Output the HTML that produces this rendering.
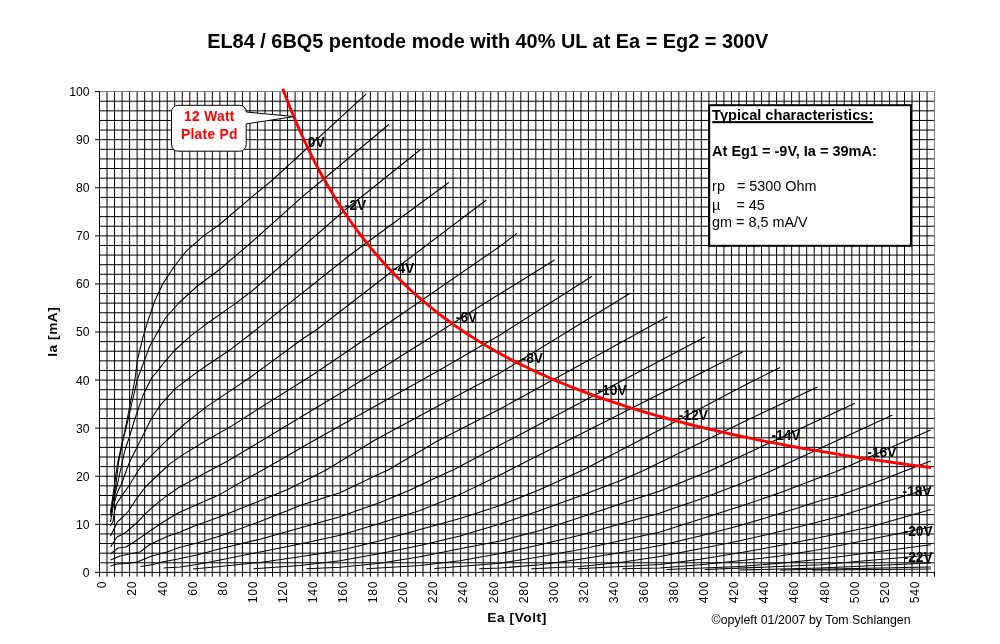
<!DOCTYPE html>
<html lang="en"><head><meta charset="utf-8"><title>EL84 / 6BQ5 pentode mode with 40% UL</title>
<style>html,body{margin:0;padding:0;background:#fff}body{width:1000px;height:644px;overflow:hidden}svg{display:block}text{font-family:"Liberation Sans",Arial,Helvetica,sans-serif}</style>
</head><body>
<svg width="1000" height="644" viewBox="0 0 1000 644">
<rect width="1000" height="644" fill="#fff"/>
<g stroke="#000" stroke-width="1.00" fill="none">
<path d="M99.50 91.60V576.70M107.02 91.60V576.70M114.55 91.60V576.70M122.07 91.60V576.70M129.59 91.60V576.70M137.12 91.60V576.70M144.64 91.60V576.70M152.16 91.60V576.70M159.69 91.60V576.70M167.21 91.60V576.70M174.73 91.60V576.70M182.25 91.60V576.70M189.78 91.60V576.70M197.30 91.60V576.70M204.82 91.60V576.70M212.35 91.60V576.70M219.87 91.60V576.70M227.39 91.60V576.70M234.92 91.60V576.70M242.44 91.60V576.70M249.96 91.60V576.70M257.49 91.60V576.70M265.01 91.60V576.70M272.53 91.60V576.70M280.06 91.60V576.70M287.58 91.60V576.70M295.10 91.60V576.70M302.62 91.60V576.70M310.15 91.60V576.70M317.67 91.60V576.70M325.19 91.60V576.70M332.72 91.60V576.70M340.24 91.60V576.70M347.76 91.60V576.70M355.29 91.60V576.70M362.81 91.60V576.70M370.33 91.60V576.70M377.86 91.60V576.70M385.38 91.60V576.70M392.90 91.60V576.70M400.43 91.60V576.70M407.95 91.60V576.70M415.47 91.60V576.70M423.00 91.60V576.70M430.52 91.60V576.70M438.04 91.60V576.70M445.56 91.60V576.70M453.09 91.60V576.70M460.61 91.60V576.70M468.13 91.60V576.70M475.66 91.60V576.70M483.18 91.60V576.70M490.70 91.60V576.70M498.23 91.60V576.70M505.75 91.60V576.70M513.27 91.60V576.70M520.80 91.60V576.70M528.32 91.60V576.70M535.84 91.60V576.70M543.37 91.60V576.70M550.89 91.60V576.70M558.41 91.60V576.70M565.94 91.60V576.70M573.46 91.60V576.70M580.98 91.60V576.70M588.50 91.60V576.70M596.03 91.60V576.70M603.55 91.60V576.70M611.07 91.60V576.70M618.60 91.60V576.70M626.12 91.60V576.70M633.64 91.60V576.70M641.17 91.60V576.70M648.69 91.60V576.70M656.21 91.60V576.70M663.74 91.60V576.70M671.26 91.60V576.70M678.78 91.60V576.70M686.31 91.60V576.70M693.83 91.60V576.70M701.35 91.60V576.70M708.88 91.60V576.70M716.40 91.60V576.70M723.92 91.60V576.70M731.44 91.60V576.70M738.97 91.60V576.70M746.49 91.60V576.70M754.01 91.60V576.70M761.54 91.60V576.70M769.06 91.60V576.70M776.58 91.60V576.70M784.11 91.60V576.70M791.63 91.60V576.70M799.15 91.60V576.70M806.68 91.60V576.70M814.20 91.60V576.70M821.72 91.60V576.70M829.25 91.60V576.70M836.77 91.60V576.70M844.29 91.60V576.70M851.81 91.60V576.70M859.34 91.60V576.70M866.86 91.60V576.70M874.38 91.60V576.70M881.91 91.60V576.70M889.43 91.60V576.70M896.95 91.60V576.70M904.48 91.60V576.70M912.00 91.60V576.70M919.52 91.60V576.70M927.05 91.60V576.70M934.50 571.90V576.70"/>
<path d="M95.00 572.40H935.00M99.50 562.78H934.50M99.50 553.17H934.50M99.50 543.55H934.50M99.50 533.94H934.50M95.00 524.32H934.50M99.50 514.70H934.50M99.50 505.09H934.50M99.50 495.47H934.50M99.50 485.86H934.50M95.00 476.24H934.50M99.50 466.62H934.50M99.50 457.01H934.50M99.50 447.39H934.50M99.50 437.78H934.50M95.00 428.16H934.50M99.50 418.54H934.50M99.50 408.93H934.50M99.50 399.31H934.50M99.50 389.70H934.50M95.00 380.08H934.50M99.50 370.46H934.50M99.50 360.85H934.50M99.50 351.23H934.50M99.50 341.62H934.50M95.00 332.00H934.50M99.50 322.38H934.50M99.50 312.77H934.50M99.50 303.15H934.50M99.50 293.54H934.50M95.00 283.92H934.50M99.50 274.30H934.50M99.50 264.69H934.50M99.50 255.07H934.50M99.50 245.46H934.50M95.00 235.84H934.50M99.50 226.22H934.50M99.50 216.61H934.50M99.50 206.99H934.50M99.50 197.38H934.50M95.00 187.76H934.50M99.50 178.14H934.50M99.50 168.53H934.50M99.50 158.91H934.50M99.50 149.30H934.50M95.00 139.68H934.50M99.50 130.06H934.50M99.50 120.45H934.50M99.50 110.83H934.50M99.50 101.22H934.50M95.00 91.60H100.00"/>
</g>
<path d="M100.00 91.60H934.50V571.90" fill="none" stroke="#808080" stroke-width="1"/>
<g stroke="#000" stroke-width="1.05" fill="none" stroke-linejoin="round">
<polyline points="110.5,512.0 114.2,486.8 117.4,464.0 120.5,450.0 124.6,432.0 127.0,420.0 129.4,408.0 135.0,379.2 137.4,360.0 143.0,337.2 147.8,321.2 155.0,300.4 162.2,285.0 173.4,267.5 186.2,251.2 203.8,235.6 219.0,225.0 234.2,212.0 255.0,194.4 272.5,180.0 366.3,93.8"/>
<polyline points="110.5,514.0 116.0,484.0 118.6,462.4 123.0,440.0 127.8,420.8 132.6,400.0 137.4,379.2 144.6,360.0 149.4,346.8 156.6,334.0 165.4,318.0 179.8,302.0 197.4,286.0 219.0,270.0 250.0,243.5 301.6,197.4 322.5,180.0 388.8,124.5"/>
<polyline points="110.5,516.5 113.0,502.0 117.5,484.0 120.5,470.0 125.0,450.0 130.0,435.0 134.5,420.0 143.0,395.2 151.8,377.6 156.6,372.4 163.8,362.8 175.0,350.0 191.0,335.6 210.2,321.2 234.2,304.4 252.0,291.0 345.0,210.0 382.5,180.0 420.0,150.0"/>
<polyline points="110.5,522.0 113.5,505.0 117.5,492.0 121.5,484.0 126.6,470.0 129.4,462.4 135.0,451.2 143.0,435.2 151.0,419.2 160.6,404.8 175.0,388.8 194.2,374.4 207.0,365.2 215.0,360.0 231.0,349.2 252.0,333.0 350.0,255.0 448.8,182.5"/>
<polyline points="110.5,526.0 113.0,521.6 114.4,512.0 116.4,504.0 121.2,496.6 129.3,485.3 138.6,470.0 144.6,462.4 152.6,454.4 167.0,440.0 184.6,424.0 207.0,406.4 231.0,390.4 252.0,376.0 301.0,340.0 317.5,329.0 393.8,270.0 486.3,200.0"/>
<polyline points="110.5,536.0 114.0,529.0 117.6,521.6 123.0,517.0 128.5,511.0 135.7,500.0 145.4,487.0 163.2,470.0 170.2,463.4 184.6,453.6 207.0,440.0 231.0,426.4 252.0,413.0 312.5,375.0 362.5,341.0 380.0,329.0 500.0,246.3 517.0,233.3"/>
<polyline points="110.5,547.0 117.0,537.0 125.0,533.0 132.0,527.0 138.2,521.6 144.6,514.4 153.5,506.3 165.6,496.6 178.0,488.0 207.0,472.0 227.8,461.0 252.0,446.5 312.5,410.0 375.0,372.5 425.0,341.0 460.0,318.8 500.0,293.8 554.5,260.0"/>
<polyline points="110.5,554.0 118.0,548.0 126.0,547.0 134.0,542.0 147.0,533.0 162.4,522.5 178.0,513.0 220.0,494.4 250.0,477.0 268.0,467.0 312.5,441.3 375.0,406.3 437.5,371.3 500.0,335.0 592.0,276.3"/>
<polyline points="110.5,560.0 120.0,556.0 132.0,553.5 140.0,552.0 149.0,545.0 167.0,536.5 180.0,532.0 197.0,525.0 220.0,516.8 260.0,500.8 287.5,489.5 312.5,477.0 327.0,469.5 375.0,440.0 437.5,406.3 500.0,373.0 629.3,293.8"/>
<polyline points="110.5,566.0 117.0,564.0 127.0,563.5 137.0,562.0 152.0,556.0 167.0,552.0 180.0,547.2 197.0,543.0 220.0,536.0 260.0,521.6 300.0,505.6 340.0,492.8 375.0,476.0 388.0,470.0 437.5,441.0 500.0,409.0 667.5,316.8"/>
<polyline points="140.5,566.5 153.0,564.5 162.0,562.0 178.0,559.0 197.0,555.0 220.0,548.8 260.0,539.2 300.0,528.0 340.0,516.8 380.0,502.4 410.0,490.0 437.5,477.0 455.0,469.0 500.0,445.0 705.0,337.0"/>
<polyline points="163.5,568.0 180.0,567.0 197.0,564.5 220.0,560.0 260.0,552.0 300.0,544.0 340.0,535.2 380.0,523.2 420.0,510.4 460.0,494.4 500.0,475.0 742.5,352.0"/>
<polyline points="193.0,569.0 220.0,566.4 260.0,562.4 300.0,556.8 340.0,550.4 380.0,540.8 420.0,529.6 460.0,518.4 500.0,505.6 540.0,489.6 583.0,470.0 750.0,382.5 780.0,367.5"/>
<polyline points="253.6,568.8 300.0,565.6 340.0,560.8 380.0,553.6 420.0,545.6 460.0,536.0 500.0,524.0 540.0,510.4 580.0,496.0 620.0,480.8 642.4,471.0 750.0,418.8 817.5,387.0"/>
<polyline points="306.4,568.8 340.0,567.2 380.0,563.2 420.0,556.8 460.0,548.8 500.0,541.0 540.0,530.4 580.0,517.6 620.0,504.0 660.0,491.0 709.6,471.0 750.0,452.0 855.0,403.3"/>
<polyline points="366.4,568.8 420.0,565.6 460.0,560.8 500.0,553.6 540.0,544.8 580.0,535.2 620.0,524.0 660.0,513.0 700.0,499.2 740.0,484.0 768.8,472.0 892.5,415.0"/>
<polyline points="434.4,568.5 500.0,563.2 540.0,556.8 580.0,549.6 620.0,540.8 660.0,532.0 700.0,519.2 740.0,506.4 780.0,492.8 820.0,477.6 836.4,471.5 930.5,430.0"/>
<polyline points="479.2,568.8 500.0,568.0 540.0,564.8 580.0,559.2 620.0,552.8 660.0,545.6 700.0,536.0 740.0,525.6 780.0,513.6 820.0,500.8 838.0,496.0 886.0,478.4 902.0,472.0 930.8,461.0"/>
<polyline points="531.2,568.8 580.0,566.4 620.0,562.4 660.0,556.5 700.0,548.8 740.0,540.8 780.0,531.5 820.0,521.6 838.0,516.8 886.0,501.6 930.8,488.0"/>
<polyline points="577.6,568.8 660.0,564.4 700.0,559.2 740.0,552.8 780.0,545.6 820.0,537.6 870.0,527.0 930.8,509.6"/>
<polyline points="622.4,568.8 660.0,568.0 700.0,564.8 740.0,560.8 780.0,556.0 820.0,549.6 930.8,527.0"/>
<polyline points="666.4,569.6 740.0,566.4 780.0,563.2 820.0,559.2 930.8,544.8"/>
<polyline points="704.8,569.6 820.0,564.8 930.8,555.0"/>
<polyline points="740.0,570.0 820.0,568.0 930.8,563.0"/>
<polyline points="780.0,570.0 930.8,567.0"/>
<polyline points="812.0,570.0 930.8,569.0"/>
</g>
<polyline fill="none" stroke="#f00" stroke-width="2.85" stroke-linecap="butt" stroke-linejoin="round" points="282.8,88.8 283.8,91.6 291.3,110.8 298.9,128.6 306.4,145.0 313.9,160.3 321.4,174.5 329.0,187.8 336.5,200.2 344.0,211.8 351.5,222.7 359.0,233.0 366.6,242.7 374.1,251.9 381.6,260.5 389.1,268.7 396.7,276.5 404.2,283.9 411.7,291.0 419.2,297.7 426.8,304.0 434.3,310.1 441.8,316.0 449.3,321.5 456.8,326.9 464.4,332.0 471.9,336.9 479.4,341.6 486.9,346.1 494.5,350.5 502.0,354.7 509.5,358.7 517.0,362.6 524.6,366.3 532.1,370.0 539.6,373.4 547.1,376.8 554.7,380.1 562.2,383.2 569.7,386.3 577.2,389.2 584.7,392.1 592.3,394.9 599.8,397.6 607.3,400.2 614.8,402.7 622.4,405.2 629.9,407.6 637.4,409.9 644.9,412.1 652.5,414.3 660.0,416.5 667.5,418.5 675.0,420.6 682.5,422.5 690.1,424.5 697.6,426.3 705.1,428.2 712.6,429.9 720.2,431.7 727.7,433.4 735.2,435.0 742.7,436.6 750.3,438.2 757.8,439.8 765.3,441.3 772.8,442.7 780.3,444.2 787.9,445.6 795.4,447.0 802.9,448.3 810.4,449.6 818.0,450.9 825.5,452.2 833.0,453.4 840.5,454.7 848.1,455.8 855.6,457.0 863.1,458.2 870.6,459.3 878.1,460.4 885.7,461.4 893.2,462.5 900.7,463.5 908.2,464.6 915.8,465.6 923.3,466.5 931.0,467.5"/>
<g font-size="13.8" font-weight="bold" fill="#000">
<text x="307.8" y="146.8">0V</text>
<text x="344.8" y="210.3">-2V</text>
<text x="392.8" y="273.3">-4V</text>
<text x="455.8" y="321.8">-6V</text>
<text x="521.6" y="363.2">-8V</text>
<text x="597.5" y="395.3">-10V</text>
<text x="678.8" y="419.5">-12V</text>
<text x="771.4" y="440.3">-14V</text>
<text x="867.3" y="457.0">-16V</text>
<text x="902.6" y="496.2">-18V</text>
<text x="903.6" y="536.4">-20V</text>
<text x="903.6" y="561.9">-22V</text>
</g>
<path d="M178 105.3H239.7a6.5 6.5 0 0 1 6.5 6.5V112L293.8 116.6L246.2 123.9V144.7a6.5 6.5 0 0 1 -6.5 6.5H178a6.5 6.5 0 0 1 -6.5 -6.5V111.8a6.5 6.5 0 0 1 6.5 -6.5Z" fill="#fff" stroke="#000" stroke-width="1"/>
<g font-size="13.8" letter-spacing="0.3" font-weight="bold" fill="#f00" text-anchor="middle">
<text x="209.4" y="120.7">12 Watt</text>
<text x="209.4" y="139.3">Plate Pd</text>
</g>
<rect x="709.2" y="105.2" width="201.8" height="140.6" fill="#fff" stroke="#000" stroke-width="2"/>
<g font-size="14.4" fill="#000">
<text x="712.1" y="119.5" font-size="14.6" font-weight="bold">Typical characteristics:</text>
<rect x="712.3" y="121.1" width="161" height="2.1" fill="#000"/>
<text x="712.1" y="156.3" font-size="14.5" font-weight="bold">At Eg1 = -9V, Ia = 39mA:</text>
<text x="712.1" y="191.3" xml:space="preserve" style="white-space:pre">rp   = 5300 Ohm</text>
<text x="712.1" y="209.5" xml:space="preserve" style="white-space:pre">µ    = 45</text>
<text x="712.1" y="227">gm = 8,5 mA/V</text>
</g>
<text x="487.8" y="48.2" font-size="19.9" font-weight="bold" text-anchor="middle" fill="#000">EL84 / 6BQ5 pentode mode with 40% UL at Ea = Eg2 = 300V</text>
<g font-size="12.2" fill="#000" text-anchor="end">
<text x="89.6" y="576.8">0</text>
<text x="89.6" y="528.7">10</text>
<text x="89.6" y="480.6">20</text>
<text x="89.6" y="432.6">30</text>
<text x="89.6" y="384.5">40</text>
<text x="89.6" y="336.4">50</text>
<text x="89.6" y="288.3">60</text>
<text x="89.6" y="240.2">70</text>
<text x="89.6" y="192.2">80</text>
<text x="89.6" y="144.1">90</text>
<text x="89.6" y="96.0">100</text>
</g>
<g font-size="12.2" fill="#000" text-anchor="end" letter-spacing="0.75">
<text transform="translate(106.3 580.7) rotate(-90)">0</text>
<text transform="translate(136.4 580.7) rotate(-90)">20</text>
<text transform="translate(166.5 580.7) rotate(-90)">40</text>
<text transform="translate(196.6 580.7) rotate(-90)">60</text>
<text transform="translate(226.7 580.7) rotate(-90)">80</text>
<text transform="translate(256.8 580.7) rotate(-90)">100</text>
<text transform="translate(286.9 580.7) rotate(-90)">120</text>
<text transform="translate(316.9 580.7) rotate(-90)">140</text>
<text transform="translate(347.0 580.7) rotate(-90)">160</text>
<text transform="translate(377.1 580.7) rotate(-90)">180</text>
<text transform="translate(407.2 580.7) rotate(-90)">200</text>
<text transform="translate(437.3 580.7) rotate(-90)">220</text>
<text transform="translate(467.4 580.7) rotate(-90)">240</text>
<text transform="translate(497.5 580.7) rotate(-90)">260</text>
<text transform="translate(527.6 580.7) rotate(-90)">280</text>
<text transform="translate(557.7 580.7) rotate(-90)">300</text>
<text transform="translate(587.8 580.7) rotate(-90)">320</text>
<text transform="translate(617.9 580.7) rotate(-90)">340</text>
<text transform="translate(648.0 580.7) rotate(-90)">360</text>
<text transform="translate(678.1 580.7) rotate(-90)">380</text>
<text transform="translate(708.2 580.7) rotate(-90)">400</text>
<text transform="translate(738.2 580.7) rotate(-90)">420</text>
<text transform="translate(768.3 580.7) rotate(-90)">440</text>
<text transform="translate(798.4 580.7) rotate(-90)">460</text>
<text transform="translate(828.5 580.7) rotate(-90)">480</text>
<text transform="translate(858.6 580.7) rotate(-90)">500</text>
<text transform="translate(888.7 580.7) rotate(-90)">520</text>
<text transform="translate(918.8 580.7) rotate(-90)">540</text>
</g>
<text transform="translate(57.2 331.7) rotate(-90)" font-size="13.7" letter-spacing="0.55" font-weight="bold" text-anchor="middle" fill="#000">Ia [mA]</text>
<text x="517.1" y="622" font-size="13.7" letter-spacing="0.55" font-weight="bold" text-anchor="middle" fill="#000">Ea [Volt]</text>
<text x="711.6" y="623.8" font-size="12.4" fill="#000">©opyleft 01/2007 by Tom Schlangen</text>
</svg></body></html>
